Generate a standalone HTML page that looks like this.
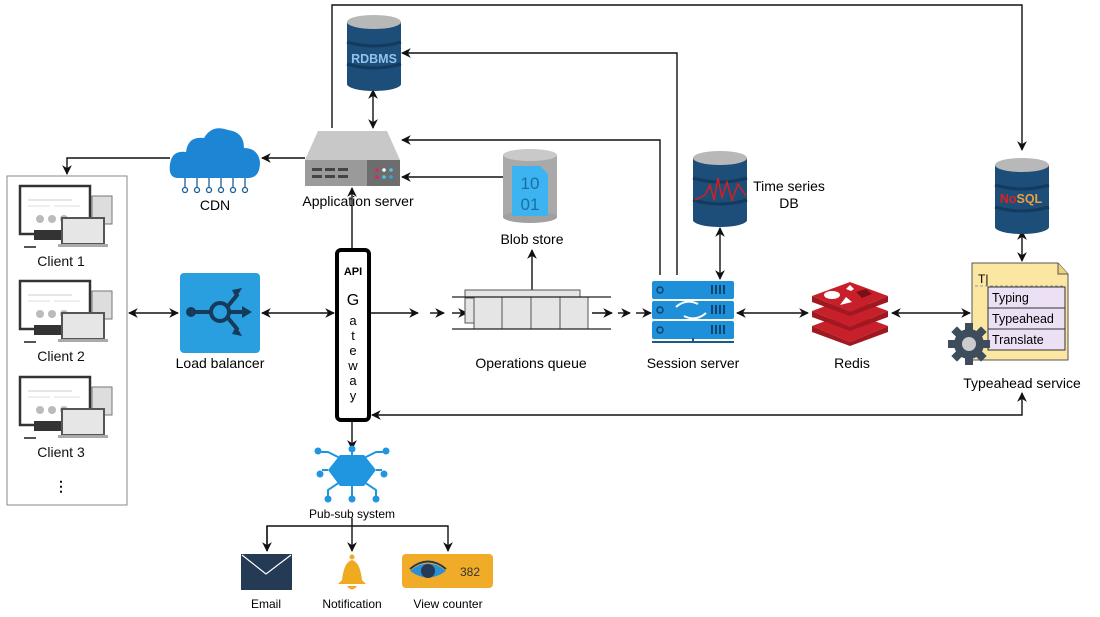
<!DOCTYPE html>
<html><head><meta charset="utf-8"><style>
body{margin:0;background:#fff;}
svg{display:block;font-family:"Liberation Sans",sans-serif;}
</style></head><body>
<svg width="1100" height="617" viewBox="0 0 1100 617" xmlns="http://www.w3.org/2000/svg">
<defs>
<marker id="a" viewBox="0 0 10 10" refX="9" refY="5" markerWidth="7" markerHeight="7" orient="auto-start-reverse"><path d="M0,0 L10,5 L0,10 L3,5z" fill="#111"/></marker>
<g id="client">
 <rect x="0" y="0" width="70" height="48" fill="#fff" stroke="#333" stroke-width="2.5"/>
 <line x1="8" y1="14" x2="52" y2="14" stroke="#ccc"/><line x1="8" y1="20" x2="30" y2="20" stroke="#ddd"/><line x1="34" y1="20" x2="60" y2="20" stroke="#ddd"/>
 <circle cx="20" cy="33" r="4" fill="#bbb"/><circle cx="32" cy="33" r="4" fill="#bbb"/><circle cx="44" cy="33" r="4" fill="#bbb"/>
 <rect x="14" y="44" width="40" height="10" fill="#333"/>
 <rect x="72" y="10" width="20" height="28" fill="#ddd" stroke="#777"/>
 <rect x="42" y="32" width="42" height="26" fill="#e6e6e6" stroke="#555" stroke-width="2"/>
 <rect x="38" y="58" width="50" height="3" fill="#aaa"/>
 <rect x="4" y="60" width="12" height="2" fill="#555"/>
</g>
<g id="cyl">
 <rect x="0" y="8" width="54" height="62" fill="#1d4e79"/>
 <ellipse cx="27" cy="70" rx="27" ry="7" fill="#1d4e79"/>
 <ellipse cx="27" cy="8" rx="27" ry="7" fill="#b8b8b8"/>
 <path d="M0,28 Q27,36 54,28" stroke="#143a5c" stroke-width="3" fill="none"/>
 <path d="M0,50 Q27,58 54,50" stroke="#143a5c" stroke-width="3" fill="none"/>
</g>
</defs>

<g stroke="#111" stroke-width="1.4" fill="none">
 <path d="M332,128 V5 H1022 V150" marker-end="url(#a)"/>
 <path d="M677,275 V53 H402" marker-end="url(#a)"/>
 <path d="M660,275 V140 H402" marker-end="url(#a)"/>
 <path d="M373,90 V128" marker-start="url(#a)" marker-end="url(#a)"/>
 <path d="M503,177 H402" marker-end="url(#a)"/>
 <path d="M305,158 H262" marker-end="url(#a)"/>
 <path d="M170,158 H67 V174" marker-end="url(#a)"/>
 <path d="M352,248 V188" marker-end="url(#a)"/>
 <path d="M129,313 H178" marker-start="url(#a)" marker-end="url(#a)"/>
 <path d="M262,313 H334" marker-start="url(#a)" marker-end="url(#a)"/>
 <path d="M371,313 H418" marker-end="url(#a)"/>
 <path d="M430,313 H444" marker-end="url(#a)"/>
 <path d="M452,313 H467" marker-end="url(#a)"/>
 <path d="M592,313 H612" marker-end="url(#a)"/>
 <path d="M618,313 H630" marker-end="url(#a)"/>
 <path d="M636,313 H651" marker-end="url(#a)"/>
 <path d="M532,329 V250" marker-end="url(#a)"/>
 <path d="M720,228 V279" marker-start="url(#a)" marker-end="url(#a)"/>
 <path d="M737,313 H808" marker-start="url(#a)" marker-end="url(#a)"/>
 <path d="M892,313 H970" marker-start="url(#a)" marker-end="url(#a)"/>
 <path d="M1022,231 V261" marker-start="url(#a)" marker-end="url(#a)"/>
 <path d="M1022,393 V415 H372" marker-start="url(#a)" marker-end="url(#a)"/>
 <path d="M352,422 V449" marker-end="url(#a)"/>
 <path d="M267,551 V526 H448 V551" marker-end="url(#a)"/>
 <path d="M267,526 V551" marker-end="url(#a)"/>
 <path d="M352,518 V551" marker-end="url(#a)"/>
</g>

<rect x="7" y="176" width="120" height="329" fill="#fff" stroke="#888"/>
<use href="#client" x="20" y="186"/>
<use href="#client" x="20" y="281"/>
<use href="#client" x="20" y="377"/>
<g font-size="14" text-anchor="middle" fill="#111">
<text x="61" y="266">Client 1</text>
<text x="61" y="361">Client 2</text>
<text x="61" y="457">Client 3</text>
<text x="61" y="491" font-weight="bold">⋮</text>
</g>

<path d="M178,178 Q168,178 170,164 Q172,150 186,152 Q188,136 204,138 Q212,124 228,130 Q244,132 244,148 Q258,148 260,162 Q260,178 248,178 Z" fill="#1d86d4"/>
<g stroke="#1d5f94" stroke-width="1.3" fill="#fff">
<line x1="185" y1="178" x2="185" y2="188"/><line x1="197" y1="178" x2="197" y2="188"/><line x1="209" y1="178" x2="209" y2="188"/><line x1="221" y1="178" x2="221" y2="188"/><line x1="233" y1="178" x2="233" y2="188"/><line x1="245" y1="178" x2="245" y2="188"/>
<circle cx="185" cy="190" r="2.5"/><circle cx="197" cy="190" r="2.5"/><circle cx="209" cy="190" r="2.5"/><circle cx="221" cy="190" r="2.5"/><circle cx="233" cy="190" r="2.5"/><circle cx="245" cy="190" r="2.5"/>
</g>
<text x="215" y="210" font-size="14" text-anchor="middle">CDN</text>

<path d="M318,131 H387 L400,160 H305 Z" fill="#c8c8c8"/>
<rect x="305" y="160" width="95" height="26" fill="#9a9a9a"/>
<rect x="367" y="160" width="33" height="26" fill="#6d6d6d"/>
<g fill="#444"><rect x="312" y="168" width="10" height="3"/><rect x="325" y="168" width="10" height="3"/><rect x="338" y="168" width="10" height="3"/><rect x="312" y="175" width="10" height="3"/><rect x="325" y="175" width="10" height="3"/><rect x="338" y="175" width="10" height="3"/></g>
<circle cx="377" cy="170" r="1.8" fill="#e0245e"/><circle cx="384" cy="170" r="1.8" fill="#fff"/><circle cx="391" cy="170" r="1.8" fill="#4fc3f7"/><circle cx="377" cy="177" r="1.8" fill="#e0245e"/><circle cx="384" cy="177" r="1.8" fill="#4fc3f7"/><circle cx="391" cy="177" r="1.8" fill="#29a8e0"/>
<text x="358" y="206" font-size="14" text-anchor="middle">Application server</text>

<use href="#cyl" x="347" y="14"/>
<text x="374" y="63" font-size="12.5" font-weight="bold" fill="#8fc2f0" text-anchor="middle">RDBMS</text>

<rect x="503" y="155" width="54" height="62" fill="#a9a9a9"/>
<ellipse cx="530" cy="217" rx="27" ry="6" fill="#a0a0a0"/>
<ellipse cx="530" cy="155" rx="27" ry="6" fill="#c9c9c9"/>
<path d="M512,166 H540 L548,174 V216 H512 Z" fill="#3db4f2"/>
<text x="530" y="189" font-size="17" fill="#1a6fa0" text-anchor="middle">10</text>
<text x="530" y="210" font-size="17" fill="#1a6fa0" text-anchor="middle">01</text>
<text x="532" y="244" font-size="14" text-anchor="middle">Blob store</text>

<rect x="180" y="273" width="80" height="80" rx="4" fill="#2a9fe0"/>
<g stroke="#163a5a" stroke-width="4" fill="none"><line x1="192" y1="312" x2="210" y2="312"/><circle cx="220" cy="312" r="9"/><line x1="228" y1="306" x2="238" y2="294"/><line x1="229" y1="312" x2="242" y2="312"/><line x1="228" y1="318" x2="238" y2="330"/></g>
<circle cx="191" cy="312" r="5" fill="#163a5a"/>
<path d="M242,288 L236,298 L232,290Z M252,312 L242,306 L242,318Z M242,336 L232,334 L236,326Z" fill="#163a5a"/>
<text x="220" y="368" font-size="14" text-anchor="middle">Load balancer</text>

<rect x="337" y="250" width="32" height="170" rx="4" fill="#fff" stroke="#000" stroke-width="4"/>
<text x="353" y="275" font-size="11" font-weight="bold" text-anchor="middle">API</text>
<g font-size="13" text-anchor="middle"><text x="353" y="305" font-size="16">G</text><text x="353" y="325">a</text><text x="353" y="340">t</text><text x="353" y="355">e</text><text x="353" y="370">w</text><text x="353" y="385">a</text><text x="353" y="400">y</text></g>

<g fill="#e5e5e5" stroke="#555"><rect x="465" y="290" width="115" height="8"/><rect x="465" y="298" width="10" height="25"/>
<rect x="474" y="297" width="28" height="32"/><rect x="502" y="297" width="29" height="32"/><rect x="531" y="297" width="29" height="32"/><rect x="560" y="297" width="28" height="32"/></g>
<line x1="452" y1="297" x2="611" y2="297" stroke="#222" stroke-width="1.3"/>
<line x1="452" y1="329" x2="611" y2="329" stroke="#222" stroke-width="1.3"/>
<text x="531" y="368" font-size="14" text-anchor="middle">Operations queue</text>

<g fill="#1e8fd9"><rect x="652" y="281" width="82" height="18" rx="2"/><rect x="652" y="301" width="82" height="18" rx="2"/><rect x="652" y="321" width="82" height="18" rx="2"/></g>
<rect x="652" y="341" width="82" height="2" fill="#1a5a8a"/><rect x="692" y="338" width="2" height="4" fill="#1a5a8a"/>
<g fill="none" stroke="#0d4570" stroke-width="1.5"><circle cx="660" cy="290" r="3"/><circle cx="660" cy="310" r="3"/><circle cx="660" cy="330" r="3"/></g>
<g stroke="#0d4570" stroke-width="2"><path d="M712,285v9M716,285v9M720,285v9M724,285v9M712,305v9M716,305v9M720,305v9M724,305v9M712,325v9M716,325v9M720,325v9M724,325v9"/></g>
<path d="M676,307 Q686,298 698,304 M706,313 Q696,322 684,316" stroke="#fff" stroke-width="2" fill="none"/>
<text x="693" y="368" font-size="14" text-anchor="middle">Session server</text>

<use href="#cyl" x="693" y="150"/>
<path d="M695,200 L705,195 L710,185 L714,200 L718,178 L722,198 L727,182 L732,200 L738,184 L746,196" stroke="#d42020" stroke-width="1.5" fill="none"/>
<text x="789" y="191" font-size="14" text-anchor="middle">Time series</text>
<text x="789" y="208" font-size="14" text-anchor="middle">DB</text>

<g fill="#c8202a"><path d="M812,326 L850,312 L888,326 L850,342Z"/><path d="M812,326 V332 L850,346 L888,332 V326 L850,342Z" fill="#a01820"/>
<path d="M812,311 L850,297 L888,311 L850,327Z"/><path d="M812,311 V317 L850,331 L888,317 V311 L850,327Z" fill="#a01820"/>
<path d="M812,296 L850,282 L888,296 L850,312Z"/><path d="M812,296 V302 L850,316 L888,302 V296 L850,312Z" fill="#a01820"/></g>
<ellipse cx="832" cy="295" rx="8" ry="4" fill="#fff"/><path d="M846,289 L850,285 L854,289 L851,291Z" fill="#fff"/><path d="M840,305 L852,302 L846,297Z" fill="#fff"/><path d="M856,292 L866,289 L872,294 L862,298Z" fill="#7a1015"/>
<text x="852" y="368" font-size="14" text-anchor="middle">Redis</text>

<use href="#cyl" x="995" y="157"/>
<text x="1021" y="203" font-size="12.5" font-weight="bold" text-anchor="middle"><tspan fill="#e02020">No</tspan><tspan fill="#e8a040">SQL</tspan></text>

<path d="M972,263 H1058 L1068,274 V360 H972 Z" fill="#fbe7a1" stroke="#555"/>
<path d="M1058,263 V274 H1068" fill="#f0d080" stroke="#555"/>
<text x="978" y="283" font-size="12">T|</text>
<line x1="975" y1="286" x2="1065" y2="286" stroke="#999" stroke-dasharray="3,2"/>
<g fill="#ece0f4" stroke="#333"><rect x="988" y="287" width="77" height="21"/><rect x="988" y="308" width="77" height="21"/><rect x="988" y="329" width="77" height="21"/></g>
<g font-size="12.5"><text x="992" y="302">Typing</text><text x="992" y="323">Typeahead</text><text x="992" y="344">Translate</text></g>
<g fill="#3d4d5c"><circle cx="969" cy="344" r="15"/>
<g transform="translate(969,344)"><rect x="-4" y="-21" width="8" height="42"/><rect x="-4" y="-21" width="8" height="42" transform="rotate(45)"/><rect x="-4" y="-21" width="8" height="42" transform="rotate(90)"/><rect x="-4" y="-21" width="8" height="42" transform="rotate(135)"/></g></g>
<circle cx="969" cy="344" r="7" fill="#ccc"/>
<text x="1022" y="388" font-size="14" text-anchor="middle">Typeahead service</text>

<g stroke="#2196e0" stroke-width="2" fill="#2196e0">
<line x1="352" y1="450" x2="352" y2="458"/><line x1="352" y1="482" x2="352" y2="498"/>
<path d="M340,458 L328,452 L318,452" fill="none"/><path d="M364,458 L376,452 L386,452" fill="none"/>
<path d="M340,482 L328,490 L328,498" fill="none"/><path d="M364,482 L376,490 L376,498" fill="none"/>
<line x1="322" y1="470" x2="328" y2="470"/><line x1="376" y1="470" x2="382" y2="470"/>
</g>
<polygon points="340,455 364,455 376,470 364,486 340,486 328,470" fill="#2196e0"/>
<g fill="#2196e0"><circle cx="352" cy="449" r="3.5"/><circle cx="318" cy="451" r="3.5"/><circle cx="386" cy="451" r="3.5"/><circle cx="320" cy="474" r="3.5"/><circle cx="384" cy="474" r="3.5"/><circle cx="328" cy="499" r="3.5"/><circle cx="352" cy="499" r="3.5"/><circle cx="376" cy="499" r="3.5"/></g>
<text x="352" y="518" font-size="12" text-anchor="middle">Pub-sub system</text>

<rect x="241" y="554" width="51" height="36" fill="#243a55"/>
<path d="M242,555 L266,574 L291,555" stroke="#fff" stroke-width="1.2" fill="none"/>
<text x="266" y="608" font-size="12" text-anchor="middle">Email</text>
<path d="M342,580 Q344,562 352,560 Q360,562 362,580 L366,584 H338 Z" fill="#f0aa20"/>
<circle cx="352" cy="557" r="2.5" fill="#f0aa20"/><path d="M347,586 Q352,593 357,586Z" fill="#f0aa20"/>
<text x="352" y="608" font-size="12" text-anchor="middle">Notification</text>
<rect x="402" y="554" width="91" height="34" rx="4" fill="#f0ac28"/>
<path d="M410,571 Q428,556 446,571 Q428,584 410,571Z" fill="#2b8fd6"/>
<circle cx="428" cy="571" r="7" fill="#243a55"/>
<path d="M410,569 Q428,554 446,569" stroke="#243a55" stroke-width="2" fill="none"/>
<text x="470" y="576" font-size="12" fill="#333" text-anchor="middle">382</text>
<text x="448" y="608" font-size="12" text-anchor="middle">View counter</text>
</svg>
</body></html>
